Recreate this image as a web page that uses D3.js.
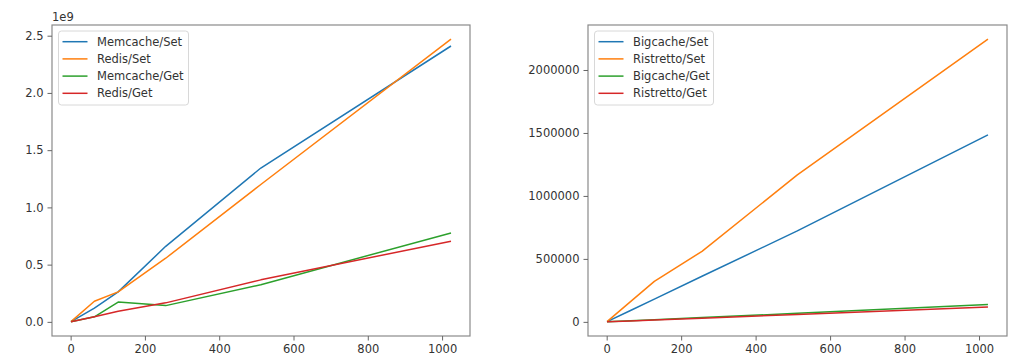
<!DOCTYPE html>
<html><head><meta charset="utf-8">
<script src="https://cdn.jsdelivr.net/npm/d3@7"></script>
<style>body{margin:0;background:#fff;} svg{display:block;font-family:"DejaVu Sans",sans-serif;}</style>
</head><body><svg id="c" width="1021" height="357"></svg>
<script>
const xs = [1, 64, 128, 256, 512, 1024];
const xTicks = [0, 200, 400, 600, 800, 1000];

const leftNames = ["Memcache/Set", "Redis/Set", "Memcache/Get", "Redis/Get"];
const memcacheSet = [0.002e9, 0.12e9, 0.262e9, 0.66e9, 1.344e9, 2.41e9];
const redisSet    = [0.002e9, 0.18e9, 0.262e9, 0.556e9, 1.2e9, 2.47e9];
const memcacheGet = [0.001e9, 0.044e9, 0.173e9, 0.142e9, 0.325e9, 0.777e9];
const redisGet    = [0.001e9, 0.044e9, 0.092e9, 0.166e9, 0.367e9, 0.705e9];
const leftTicks = [0, 0.5e9, 1.0e9, 1.5e9, 2.0e9, 2.5e9];
const leftTickLabels = ["0.0", "0.5", "1.0", "1.5", "2.0", "2.5"];

const rightNames = ["Bigcache/Set", "Ristretto/Set", "Bigcache/Get", "Ristretto/Get"];
const bigcacheSet  = [1500, 90000, 180000, 362000, 722000, 1485000];
const ristrettoSet = [2000, 161000, 322000, 560000, 1167000, 2245000];
const bigcacheGet  = [150, 8500, 17000, 34000, 68000, 137000];
const ristrettoGet = [120, 7300, 14600, 29000, 58500, 118000];
const rightTicks = [0, 500000, 1000000, 1500000, 2000000];
const rightTickLabels = ["0", "500000", "1000000", "1500000", "2000000"];

const colors = ["#1f77b4", "#ff7f0e", "#2ca02c", "#d62728"];

const svg = d3.select("#c");

function panel(cfg) {
  const {left, right, top, bottom, series, names, yTicks, yLabels, exp, legendW} = cfg;
  const all = series.flat();
  const ymin = 0, ymax = d3.max(all);
  const pad = (ymax - ymin) * 0.05;
  const x = d3.scaleLinear().domain([1 - 1023*0.05, 1024 + 1023*0.05]).range([left, right]);
  const y = d3.scaleLinear().domain([ymin - pad, ymax + pad]).range([bottom, top]);
  const g = svg.append("g");

  const line = d3.line().x((d, i) => x(xs[i])).y(d => y(d));
  series.forEach((s, k) => {
    g.append("path").datum(s).attr("d", line)
      .attr("fill", "none").attr("stroke", colors[k]).attr("stroke-width", 1.5)
      .attr("stroke-linejoin", "round");
  });

  g.append("rect").attr("x", left).attr("y", top).attr("width", right - left).attr("height", bottom - top)
    .attr("fill", "none").attr("stroke", "#8a8a8a").attr("stroke-width", 1.2);

  const xa = d3.axisBottom(x).tickValues(xTicks).tickFormat(d => String(d)).tickSize(4.5).tickPadding(4);
  const gx = g.append("g").attr("transform", `translate(0,${bottom})`).call(xa);
  const ya = d3.axisLeft(y).tickValues(yTicks).tickFormat((d, i) => yLabels[i]).tickSize(4.5).tickPadding(4);
  const gy = g.append("g").attr("transform", `translate(${left},0)`).call(ya);
  [gx, gy].forEach(a => {
    a.select(".domain").remove();
    a.selectAll(".tick line").attr("stroke", "#666");
    a.selectAll(".tick text").attr("fill", "#333").style("font-size", "11.5px").style("font-family", "'DejaVu Sans', sans-serif");
  });

  if (exp) {
    g.append("text").attr("x", left).attr("y", top - 4).text(exp)
      .attr("fill", "#333").style("font-size", "11.5px");
  }

  const lx = left + 6.5, ly = top + 6;
  const lg = g.append("g");
  lg.append("rect").attr("x", lx).attr("y", ly).attr("width", legendW).attr("height", 74)
    .attr("rx", 3).attr("fill", "#fff").attr("fill-opacity", 0.85).attr("stroke", "#d8d8d8");
  names.forEach((n, k) => {
    const cy = ly + 10.7 + k * 17.2;
    lg.append("line").attr("x1", lx + 4).attr("x2", lx + 29).attr("y1", cy).attr("y2", cy)
      .attr("stroke", colors[k]).attr("stroke-width", 1.5);
    lg.append("text").attr("x", lx + 38.5).attr("y", cy).attr("dy", "0.35em").text(n)
      .attr("fill", "#333").style("font-size", "11.5px");
  });
}

panel({left: 52, right: 470, top: 25, bottom: 336,
  series: [memcacheSet, redisSet, memcacheGet, redisGet], names: leftNames,
  yTicks: leftTicks, yLabels: leftTickLabels, exp: "1e9", legendW: 130});
panel({left: 588, right: 1007, top: 25, bottom: 336,
  series: [bigcacheSet, ristrettoSet, bigcacheGet, ristrettoGet], names: rightNames,
  yTicks: rightTicks, yLabels: rightTickLabels, exp: null, legendW: 119});
</script></body></html>
